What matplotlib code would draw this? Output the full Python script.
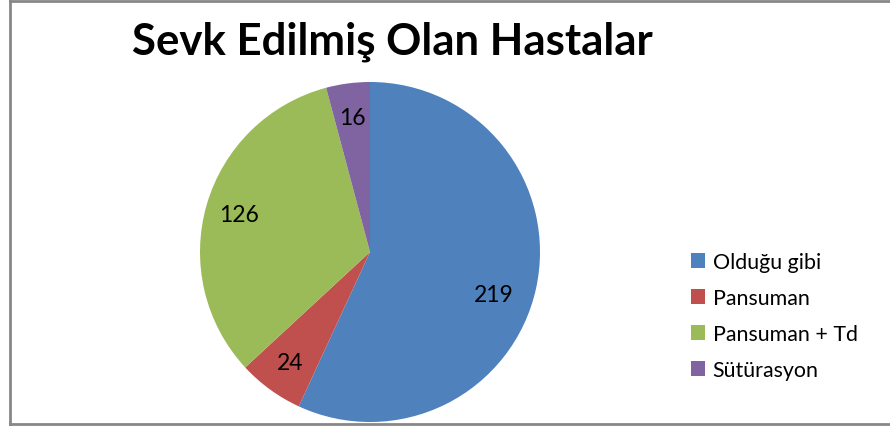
import numpy as np
import matplotlib
matplotlib.use('Agg')
import matplotlib.pyplot as plt
from matplotlib.lines import Line2D
from matplotlib.patches import Patch

plt.rcParams['font.family'] = ['Lato', 'DejaVu Sans']

title = "Sevk Edilmiş Olan Hastalar"
categories = ['Olduğu gibi', 'Pansuman', 'Pansuman + Td', 'Sütürasyon']
counts = [219, 24, 126, 16]
colors = ['#4F81BD', '#C0504D', '#9BBB59', '#8064A2']

W, H = 890, 427
fig = plt.figure(figsize=(W / 100, H / 100), dpi=100)

# pie area: centre (370, 253) px, radius 170 px
cx, cy, r = 370, 253, 170
ax = fig.add_axes([(cx - r) / W, (H - cy - r) / H, 2 * r / W, 2 * r / H])
wedges, texts, autotexts = ax.pie(
    counts, colors=colors, startangle=90, counterclock=False,
    autopct=lambda p: f"{round(p * sum(counts) / 100):d}",
    pctdistance=0.8, wedgeprops=dict(linewidth=0),
    textprops=dict(fontsize=16.5, color='black'))
# the big slice label sits a bit lower and closer to the centre
a = np.deg2rad(-19)
autotexts[0].set_position((0.77 * np.cos(a), 0.77 * np.sin(a)))
ax.set_xlim(-1, 1)
ax.set_ylim(-1, 1)
ax.set_aspect('equal')

fig.text(392 / W, 1 - 42 / H, title, ha='center', va='center',
         fontsize=31.5, fontweight='bold')

handles = [Patch(facecolor=c, edgecolor='none') for c in colors]
fig.legend(handles, categories, loc='center left',
           bbox_to_anchor=(672 / W, 1 - 317 / H), frameon=False,
           fontsize=15.4, handlelength=0.65, handleheight=0.65,
           handletextpad=0.35, labelspacing=0.75)

# chart frame
frame = dict(color='#878787', linewidth=2, transform=fig.transFigure)
fig.add_artist(Line2D([10 / W, 10 / W], [1 - 2 / H, 1 - 425 / H], **frame))
fig.add_artist(Line2D([10 / W, 1], [1 - 2 / H, 1 - 2 / H], **frame))
fig.add_artist(Line2D([10 / W, 1], [1 - 425 / H, 1 - 425 / H], **frame))

fig.savefig('out.png', dpi=100)
